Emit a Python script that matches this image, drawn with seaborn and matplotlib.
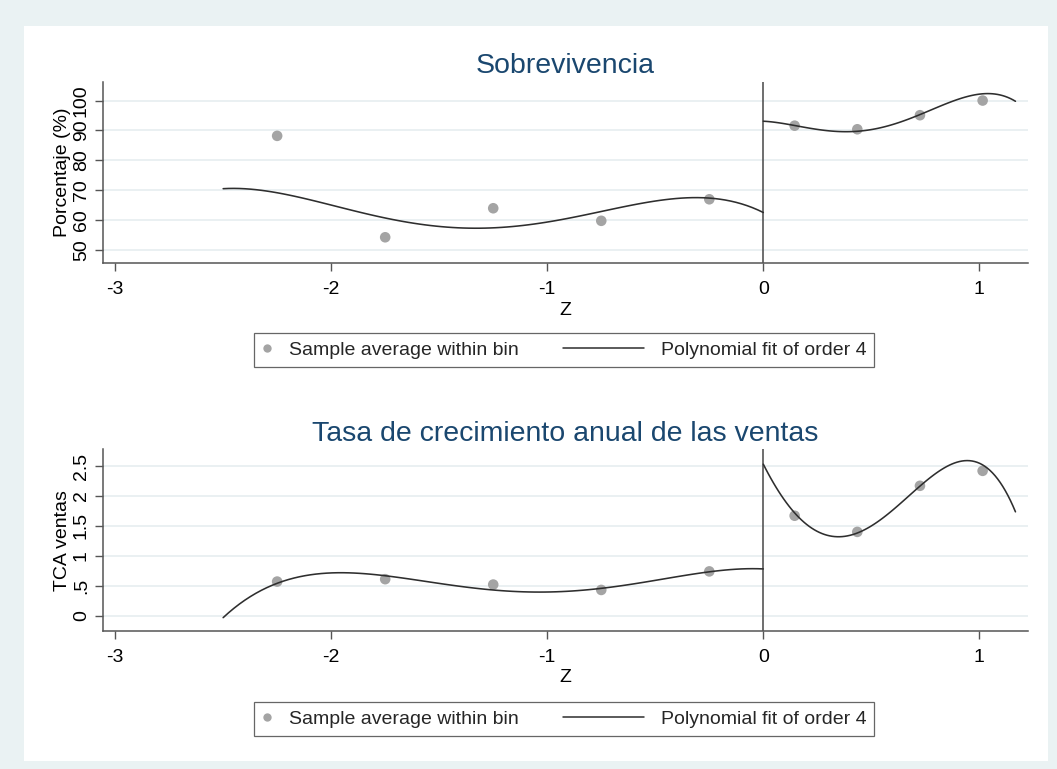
import matplotlib
matplotlib.use("Agg")
import matplotlib.pyplot as plt
from matplotlib.lines import Line2D
from matplotlib.legend_handler import HandlerLine2D
from matplotlib.patches import Rectangle
import seaborn as sns

# Bin centres of the running variable Z
bin_z = [-2.25, -1.75, -1.25, -0.75, -0.25, 0.145, 0.435, 0.725, 1.015]

# Sample averages within each bin
surv_bin = [88.2, 54.3, 64.0, 59.8, 67.0, 91.6, 90.4, 95.1, 100.0]
sales_bin = [0.57, 0.61, 0.52, 0.43, 0.74, 1.67, 1.40, 2.17, 2.42]

# Fitted curve samples, left and right of the cutoff
surv_left_z = [-2.5, -2.375, -2.25, -2.1, -1.94, -1.79, -1.63, -1.48, -1.31, -1.08, -0.85, -0.62, -0.38, -0.23, 0.0]
surv_left_y = [70.0, 70.7, 70.0, 66.8, 63.7, 60.9, 59.0, 57.9, 57.4, 58.4, 61.8, 65.3, 67.0, 66.8, 62.9]
surv_right_z = [0.0, 0.148, 0.349, 0.441, 0.58, 0.735, 0.889, 1.043, 1.167]
surv_right_y = [93.2, 91.3, 89.9, 90.0, 91.3, 95.5, 100.2, 102.4, 99.7]

sales_left_z = [-2.5, -2.406, -2.25, -2.097, -1.943, -1.79, -1.634, -1.48, -1.264, -1.032, -0.755, -0.493, -0.26, 0.0]
sales_left_y = [-0.03, 0.23, 0.56, 0.68, 0.71, 0.68, 0.61, 0.53, 0.44, 0.40, 0.44, 0.60, 0.73, 0.78]
sales_right_z = [0.0, 0.056, 0.148, 0.241, 0.349, 0.441, 0.58, 0.735, 0.889, 0.966, 1.043, 1.167]
sales_right_y = [2.50, 2.21, 1.70, 1.43, 1.29, 1.38, 1.74, 2.19, 2.56, 2.58, 2.44, 1.74]

# Axis ticks
x_ticks = [-3, -2, -1, 0, 1]
x_ticklabels = ["-3", "-2", "-1", "0", "1"]
surv_ticks = [50, 60, 70, 80, 90, 100]
surv_ticklabels = ["50", "60", "70", "80", "90", "100"]
sales_ticks = [0, 0.5, 1, 1.5, 2, 2.5]
sales_ticklabels = ["0", ".5", "1", "1.5", "2", "2.5"]

titles = ["Sobrevivencia", "Tasa de crecimiento anual de las ventas"]
ylabels = ["Porcentaje (%)", "TCA ventas"]
legend_labels = ["Sample average within bin", "Polynomial fit of order 4"]

sns.set_style("white")
plt.rcParams["font.family"] = ["Liberation Sans", "DejaVu Sans"]
plt.rcParams["axes.unicode_minus"] = False

OUTER = "#eaf2f3"
GRID = "#e8eff1"
DOT = "#a4a4a4"
LINE = "#2e2e2e"
AXIS = "#555555"
TITLE = "#1a476f"
FS = 14

W, H = 1057, 769


class LeftExtendedLine(HandlerLine2D):
    """Legend line key that reaches further to the left of its handle box."""

    def __init__(self, extra, **kw):
        super().__init__(**kw)
        self.extra = extra

    def create_artists(self, legend, orig_handle, xdescent, ydescent,
                       width, height, fontsize, trans):
        e = self.extra * fontsize
        return super().create_artists(legend, orig_handle, xdescent + e, ydescent,
                                      width + e, height, fontsize, trans)


fig = plt.figure(figsize=(W / 100, H / 100), dpi=100)
fig.patch.set_facecolor(OUTER)
fig.add_artist(Rectangle((24 / W, 1 - 761 / H), (1048 - 24) / W, (761 - 26) / H,
                         transform=fig.transFigure, facecolor="white",
                         edgecolor="none", zorder=0))


def px_axes(left, top, right, bottom):
    return fig.add_axes([left / W, 1 - bottom / H, (right - left) / W, (bottom - top) / H])


panels = [
    dict(ax=px_axes(103, 81.7, 1028, 263.3), bins=surv_bin,
         fits=[(surv_left_z, surv_left_y), (surv_right_z, surv_right_y)],
         ylim=(45.6, 106.3), yticks=surv_ticks, yticklabels=surv_ticklabels,
         legend_y=350),
    dict(ax=px_axes(103, 449.3, 1028, 631), bins=sales_bin,
         fits=[(sales_left_z, sales_left_y), (sales_right_z, sales_right_y)],
         ylim=(-0.256, 2.78), yticks=sales_ticks, yticklabels=sales_ticklabels,
         legend_y=719),
]

for p, title, ylabel in zip(panels, titles, ylabels):
    ax = p["ax"]
    ax.set_facecolor("white")
    ax.set_axisbelow(True)

    sns.scatterplot(x=bin_z, y=p["bins"], ax=ax, color=DOT, s=58,
                    edgecolor="none", linewidth=0, zorder=3, legend=False)
    for fz, fy in p["fits"]:
        sns.regplot(x=fz, y=fy, order=4, ci=None, scatter=False, truncate=True,
                    ax=ax, line_kws=dict(color=LINE, lw=1.15, zorder=4))
    ax.axvline(0, color=AXIS, lw=1.2, zorder=2)

    ax.set_xlim(-3.056, 1.225)
    ax.set_ylim(*p["ylim"])
    ax.set_xticks(x_ticks)
    ax.set_xticklabels(x_ticklabels)
    ax.set_yticks(p["yticks"])
    ax.set_yticklabels(p["yticklabels"])
    ax.yaxis.grid(True, color=GRID, lw=1.3)
    ax.xaxis.grid(False)

    for side in ("top", "right"):
        ax.spines[side].set_visible(False)
    for side in ("left", "bottom"):
        ax.spines[side].set_color(AXIS)
        ax.spines[side].set_linewidth(1.1)

    ax.tick_params(axis="x", direction="out", length=6, width=1.0, color=AXIS,
                   pad=6.7, labelsize=FS, labelcolor="black", bottom=True)
    ax.tick_params(axis="y", direction="out", length=6, width=1.0, color=AXIS,
                   pad=3.5, labelsize=FS, labelcolor="black", left=True,
                   labelrotation=90)
    for lab in ax.get_yticklabels():
        lab.set_verticalalignment("center")

    ax.set_xlabel("Z", fontsize=FS, labelpad=2.7, color="black")
    ax.set_ylabel(ylabel, fontsize=FS, labelpad=1, color="black")
    ax.set_title(title, fontsize=20.5, color=TITLE, pad=6.3)

    dot_key = Line2D([], [], marker="o", ls="none", color=DOT, markersize=6,
                     markeredgewidth=0)
    line_key = Line2D([], [], color=LINE, lw=1.1)
    leg = ax.legend([dot_key, line_key], legend_labels, loc="center",
                    bbox_to_anchor=(564 / W, 1 - p["legend_y"] / H),
                    bbox_transform=fig.transFigure, ncol=2, frameon=True,
                    fancybox=False, edgecolor="#404040", fontsize=FS,
                    handlelength=0.55, handletextpad=0.85, columnspacing=5.9,
                    borderpad=0.42, borderaxespad=0, numpoints=1,
                    handler_map={line_key: LeftExtendedLine(3.6)})
    leg.get_frame().set_linewidth(0.9)

fig.savefig("out.png", dpi=100, facecolor=OUTER)
